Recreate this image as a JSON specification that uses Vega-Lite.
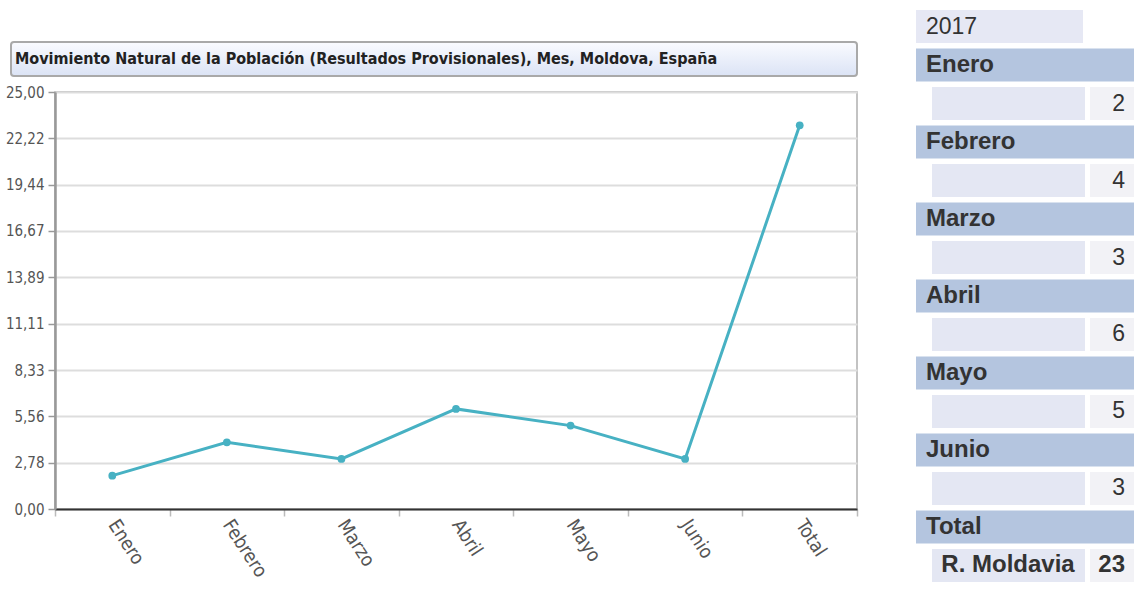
{
  "$schema": "https://vega.github.io/schema/vega-lite/v6.json",
  "background": "white",
  "padding": {"left": 4, "top": 10, "right": 0, "bottom": 0},
  "config": {"view": {"stroke": null}},
  "datasets": {
    "titulo": [{"titulo": "Movimiento Natural de la Población (Resultados Provisionales), Mes, Moldova, España"}],
    "serie": [
      {"mes": "Enero", "valor": 2},
      {"mes": "Febrero", "valor": 4},
      {"mes": "Marzo", "valor": 3},
      {"mes": "Abril", "valor": 6},
      {"mes": "Mayo", "valor": 5},
      {"mes": "Junio", "valor": 3},
      {"mes": "Total", "valor": 23}
    ],
    "tabla": [
      {"linea": "01", "tipo": "anio", "texto": "2017"},
      {"linea": "02", "tipo": "mes", "texto": "Enero"},
      {"linea": "03", "tipo": "dato", "texto": "", "valor": 2},
      {"linea": "04", "tipo": "mes", "texto": "Febrero"},
      {"linea": "05", "tipo": "dato", "texto": "", "valor": 4},
      {"linea": "06", "tipo": "mes", "texto": "Marzo"},
      {"linea": "07", "tipo": "dato", "texto": "", "valor": 3},
      {"linea": "08", "tipo": "mes", "texto": "Abril"},
      {"linea": "09", "tipo": "dato", "texto": "", "valor": 6},
      {"linea": "10", "tipo": "mes", "texto": "Mayo"},
      {"linea": "11", "tipo": "dato", "texto": "", "valor": 5},
      {"linea": "12", "tipo": "mes", "texto": "Junio"},
      {"linea": "13", "tipo": "dato", "texto": "", "valor": 3},
      {"linea": "14", "tipo": "mes", "texto": "Total"},
      {"linea": "15", "tipo": "dato", "texto": "R. Moldavia", "valor": 23}
    ]
  },
  "spacing": 57,
  "hconcat": [
    {
      "spacing": 7,
      "vconcat": [
        {
          "width": 802,
          "height": 66,
          "data": {"name": "titulo"},
          "layer": [
            {
              "mark": {"type": "rect", "cornerRadius": 3, "stroke": "#a9a9a9", "strokeWidth": 2,
                "fill": {"gradient": "linear", "x1": 0, "y1": 0, "x2": 0, "y2": 1,
                  "stops": [{"offset": 0, "color": "#fafbff"}, {"offset": 1, "color": "#dbe3f5"}]}},
              "encoding": {
                "x": {"datum": -44, "type": "quantitative", "scale": {"domain": [0, 802], "nice": false, "zero": false}, "axis": null},
                "x2": {"datum": 802},
                "y": {"datum": 0, "type": "quantitative", "scale": {"domain": [0, 66], "nice": false, "zero": false}, "axis": null},
                "y2": {"datum": 34}
              }
            },
            {
              "mark": {"type": "text", "align": "left", "baseline": "middle", "font": "DejaVu Sans Condensed, sans-serif", "fontSize": 16, "fontWeight": "bold", "color": "#222222"},
              "encoding": {
                "x": {"datum": -40, "type": "quantitative"},
                "y": {"datum": 17, "type": "quantitative"},
                "text": {"field": "titulo"}
              }
            }
          ]
        },
        {
          "width": 802,
          "height": 417,
          "view": {"stroke": "#b0b0b0", "strokeWidth": 1.5},
          "data": {"name": "serie"},
          "encoding": {
            "x": {"field": "mes", "type": "nominal", "sort": null,
              "scale": {"type": "band", "paddingInner": 0, "paddingOuter": 0},
              "axis": {"title": null, "labelAngle": 57, "tickBand": "extent", "grid": false,
                "domainColor": "#333333", "domainWidth": 2, "tickColor": "#bbbbbb", "tickSize": 7, "tickWidth": 1.5,
                "labelFont": "DejaVu Sans Condensed, sans-serif", "labelFontSize": 19, "labelColor": "#555555",
                "labelPadding": 5, "labelAlign": "left", "labelBaseline": "middle"}},
            "y": {"field": "valor", "type": "quantitative",
              "scale": {"domain": [0, 25], "nice": false, "zero": true},
              "axis": {"title": null, "values": [0, 2.78, 5.56, 8.33, 11.11, 13.89, 16.67, 19.44, 22.22, 25],
                "labelExpr": "replace(format(datum.value, '.2f'), '.', ',')",
                "grid": true, "gridColor": "#dddddd", "gridWidth": 2,
                "domainColor": "#999999", "domainWidth": 2.5, "tickColor": "#999999", "tickSize": 7, "tickWidth": 1.5,
                "labelFont": "DejaVu Sans Condensed, sans-serif", "labelFontSize": 15, "labelColor": "#555555",
                "labelPadding": 4}}
          },
          "layer": [
            {"mark": {"type": "line", "color": "#47b1c3", "strokeWidth": 3}},
            {"mark": {"type": "point", "filled": true, "color": "#47b1c3", "size": 60, "opacity": 1}}
          ]
        }
      ]
    },
    {
      "width": 218,
      "height": 572,
      "data": {"name": "tabla"},
      "encoding": {
        "y": {"field": "linea", "type": "ordinal", "sort": "ascending", "scale": {"paddingInner": 0.14, "paddingOuter": 0}, "axis": null}
      },
      "layer": [
        {
          "transform": [{"filter": "datum.tipo === 'anio'"}],
          "mark": {"type": "rect", "color": "#e6e8f4"},
          "encoding": {
            "x": {"datum": 0, "type": "quantitative", "scale": {"domain": [0, 218], "nice": false, "zero": false}, "axis": null},
            "x2": {"datum": 167}
          }
        },
        {
          "transform": [{"filter": "datum.tipo === 'mes'"}],
          "mark": {"type": "rect", "color": "#b4c5df"},
          "encoding": {"x": {"datum": 0, "type": "quantitative"}, "x2": {"datum": 218}}
        },
        {
          "transform": [{"filter": "datum.tipo === 'dato'"}],
          "mark": {"type": "rect", "color": "#e4e7f3"},
          "encoding": {"x": {"datum": 16, "type": "quantitative"}, "x2": {"datum": 169}}
        },
        {
          "transform": [{"filter": "datum.tipo === 'dato'"}],
          "mark": {"type": "rect", "color": "#f2f2f6"},
          "encoding": {"x": {"datum": 174, "type": "quantitative"}, "x2": {"datum": 218}}
        },
        {
          "transform": [{"filter": "datum.tipo === 'anio'"}],
          "mark": {"type": "text", "align": "left", "baseline": "middle", "font": "Liberation Sans, Arial, sans-serif", "fontSize": 23, "color": "#333333"},
          "encoding": {"x": {"datum": 10, "type": "quantitative"}, "text": {"field": "texto"}}
        },
        {
          "transform": [{"filter": "datum.tipo === 'mes'"}],
          "mark": {"type": "text", "align": "left", "baseline": "middle", "font": "Liberation Sans, Arial, sans-serif", "fontSize": 24, "fontWeight": "bold", "color": "#333333"},
          "encoding": {"x": {"datum": 10, "type": "quantitative"}, "text": {"field": "texto"}}
        },
        {
          "transform": [{"filter": "datum.tipo === 'dato' && datum.texto === ''"}],
          "mark": {"type": "text", "align": "right", "baseline": "middle", "font": "Liberation Sans, Arial, sans-serif", "fontSize": 23, "color": "#333333"},
          "encoding": {"x": {"datum": 209, "type": "quantitative"}, "text": {"field": "valor"}}
        },
        {
          "transform": [{"filter": "datum.tipo === 'dato' && datum.texto !== ''"}],
          "mark": {"type": "text", "align": "right", "baseline": "middle", "font": "Liberation Sans, Arial, sans-serif", "fontSize": 24, "fontWeight": "bold", "color": "#333333"},
          "encoding": {"x": {"datum": 209, "type": "quantitative"}, "text": {"field": "valor"}}
        },
        {
          "transform": [{"filter": "datum.tipo === 'dato' && datum.texto !== ''"}],
          "mark": {"type": "text", "align": "center", "baseline": "middle", "font": "Liberation Sans, Arial, sans-serif", "fontSize": 24, "fontWeight": "bold", "color": "#333333"},
          "encoding": {"x": {"datum": 92, "type": "quantitative"}, "text": {"field": "texto"}}
        }
      ]
    }
  ]
}
